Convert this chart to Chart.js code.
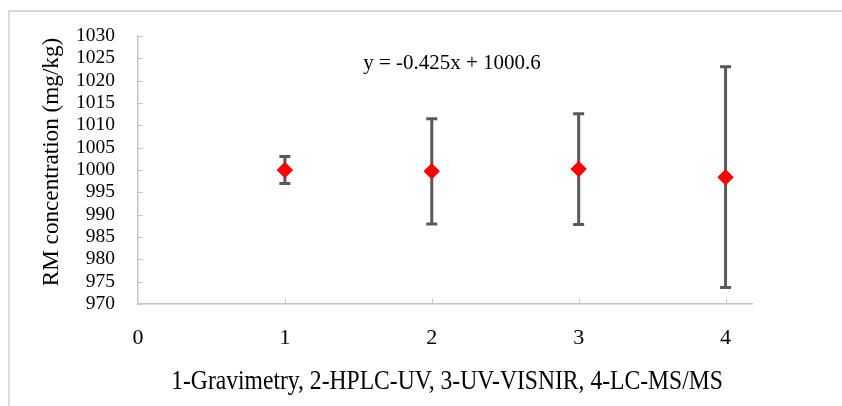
<!DOCTYPE html>
<html>
<head>
<meta charset="utf-8">
<script src="https://cdn.jsdelivr.net/npm/chart.js@4.4.1/dist/chart.umd.min.js"></script>
<style>
  html, body { margin: 0; padding: 0; background: #fff; }
  #wrap { width: 842px; height: 406px; position: relative; }
</style>
</head>
<body>
<div id="wrap"><canvas id="rmChart" width="842" height="406"></canvas></div>
<script>
// method number on the x axis (1-Gravimetry, 2-HPLC-UV, 3-UV-VISNIR, 4-LC-MS/MS)
const methods = [1, 2, 3, 4];
// mean RM concentration (mg/kg)
const means = [1000.0, 999.7, 1000.2, 998.4];
// +/- error bar half widths
const errors = [3.0, 11.8, 12.4, 24.7];

const xTicks = [0, 1, 2, 3, 4];
const yTicks = [970, 975, 980, 985, 990, 995, 1000, 1005, 1010, 1015, 1020, 1025, 1030];

const serif = "'Liberation Serif', 'Times New Roman', serif";
const axisGray = "#c6c6c6";

/* ---------- frame, ticks, error bars, titles ---------- */
const extras = {
    id: "extras",
    beforeDraw(chart) {
        const ctx = chart.ctx;
        ctx.save();
        ctx.fillStyle = "#fff";
        ctx.fillRect(0, 0, chart.width, chart.height);
        // outer frame (left + top only visible)
        ctx.strokeStyle = "#d9d9d9";
        ctx.lineWidth = 2;
        ctx.beginPath();
        ctx.moveTo(9, chart.height);
        ctx.lineTo(9, 11);
        ctx.lineTo(chart.width, 11);
        ctx.stroke();
        ctx.restore();
    },
    afterDatasetsDraw(chart) {
        const ctx = chart.ctx;
        const xs = chart.scales.x, ys = chart.scales.y;
        ctx.save();

        // inside tick marks
        ctx.strokeStyle = axisGray;
        ctx.lineWidth = 1;
        ctx.beginPath();
        yTicks.forEach(v => {
            const py = Math.round(ys.getPixelForValue(v)) + 0.5;
            ctx.moveTo(xs.left, py);
            ctx.lineTo(xs.left + 5, py);
        });
        xTicks.slice(1).forEach(v => {
            const px = Math.round(xs.getPixelForValue(v)) + 0.5;
            ctx.moveTo(px, ys.bottom);
            ctx.lineTo(px, ys.bottom - 5);
        });
        ctx.stroke();

        // error bars
        ctx.strokeStyle = "#595959";
        ctx.lineWidth = 3;
        methods.forEach((m, i) => {
            const px = xs.getPixelForValue(m);
            const top = ys.getPixelForValue(means[i] + errors[i]);
            const bot = ys.getPixelForValue(means[i] - errors[i]);
            ctx.beginPath();
            ctx.moveTo(px, top);
            ctx.lineTo(px, bot);
            ctx.moveTo(px - 5.5, top);
            ctx.lineTo(px + 5.5, top);
            ctx.moveTo(px - 5.5, bot);
            ctx.lineTo(px + 5.5, bot);
            ctx.stroke();
        });
        ctx.restore();

        // redraw the markers over the bars
        chart.getDatasetMeta(0).data.forEach(pt => pt.draw(ctx));

        // titles + trendline equation
        ctx.save();
        ctx.fillStyle = "#000";
        ctx.textAlign = "center";
        ctx.textBaseline = "middle";
        ctx.font = "21px " + serif;
        ctx.fillText("y = -0.425x + 1000.6", 452, 63);

        ctx.save();
        ctx.translate(447, 382);
        ctx.scale(1, 1.12);
        ctx.font = "23.6px " + serif;
        ctx.fillText("1-Gravimetry, 2-HPLC-UV, 3-UV-VISNIR, 4-LC-MS/MS", 0, 0);
        ctx.restore();

        ctx.font = "23.2px " + serif;
        ctx.translate(52, 162);
        ctx.rotate(-Math.PI / 2);
        ctx.fillText("RM concentration (mg/kg)", 0, 0);
        ctx.restore();
    }
};

new Chart(document.getElementById("rmChart"), {
    type: "scatter",
    data: {
        datasets: [{
            label: "RM",
            data: methods.map((m, i) => ({ x: m, y: means[i] })),
            pointStyle: "rectRot",
            pointRadius: 8,
            pointHoverRadius: 8,
            backgroundColor: "#ff0000",
            borderColor: "#ff0000",
            borderWidth: 0
        }]
    },
    options: {
        responsive: false,
        animation: false,
        layout: { padding: { left: 10, top: 36, right: 90, bottom: 0 } },
        plugins: { legend: { display: false }, tooltip: { enabled: false } },
        scales: {
            x: {
                type: "linear",
                min: 0,
                max: 4.18,
                afterBuildTicks: s => { s.ticks = xTicks.map(v => ({ value: v })); },
                afterFit: s => { s.height = 102; },
                grid: { drawOnChartArea: false, drawTicks: false, color: "transparent" },
                border: { display: true, color: axisGray, width: 1.5 },
                ticks: { color: "#000", padding: 21, autoSkip: false, maxRotation: 0,
                         callback: v => String(v), font: { family: serif, size: 22 } }
            },
            y: {
                min: 970,
                max: 1030,
                afterBuildTicks: s => { s.ticks = yTicks.map(v => ({ value: v })); },
                afterFit: s => { s.width = 128; },
                grid: { drawOnChartArea: false, drawTicks: false, color: "transparent" },
                border: { display: true, color: axisGray, width: 1.5 },
                ticks: { color: "#000", padding: 23, autoSkip: false,
                         callback: v => String(v), font: { family: serif, size: 19.5 } }
            }
        }
    },
    plugins: [extras]
});
</script>
</body>
</html>
